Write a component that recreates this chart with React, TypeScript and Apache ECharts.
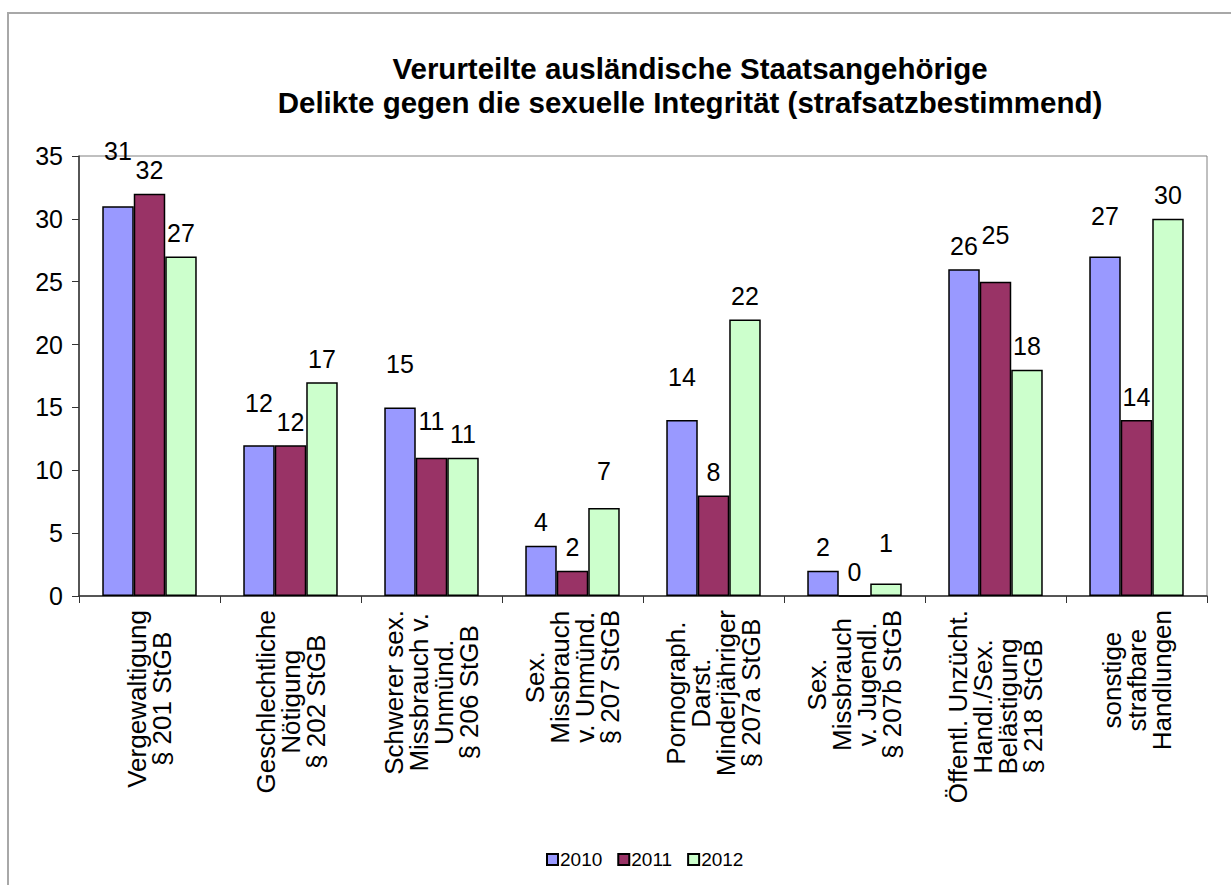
import React, { useEffect, useRef } from "react";
import * as echarts from "echarts";

const titleLines = [
  "Verurteilte ausländische Staatsangehörige",
  "Delikte gegen die sexuelle Integrität (strafsatzbestimmend)",
];

const categories = [
  "Vergewaltigung\n§ 201 StGB",
  "Geschlechtliche\nNötigung\n§ 202 StGB",
  "Schwerer sex.\nMissbrauch v.\nUnmünd.\n§ 206 StGB",
  "Sex.\nMissbrauch\nv. Unmünd.\n§ 207 StGB",
  "Pornograph.\nDarst.\nMinderjähriger\n§ 207a StGB",
  "Sex.\nMissbrauch\nv. Jugendl.\n§ 207b StGB",
  "Öffentl. Unzücht.\nHandl./Sex.\nBelästigung\n§ 218 StGB",
  "sonstige\nstrafbare\nHandlungen",
];

const seriesNames = ["2010", "2011", "2012"];
const values2010 = [31, 12, 15, 4, 14, 2, 26, 27];
const values2011 = [32, 12, 11, 2, 8, 0, 25, 14];
const values2012 = [27, 17, 11, 7, 22, 1, 18, 30];

// extra upward shift of individual value labels (staggered as in the original)
const labelLift2010 = [32, 19, 20, 0, 20, 0, 0, 17];
const labelLift2011 = [0, 0, 13, 0, 0, 0, 23, 0];
const labelLift2012 = [0, 0, 0, 14, 0, 17, 0, 0];

const colors = ["#9999FF", "#993366", "#CCFFCC"];

const yTicks = { min: 0, max: 35, interval: 5 };

const FONT = "Liberation Sans, Arial, Helvetica, sans-serif";

export default function App() {
  const ref = useRef<HTMLDivElement>(null);

  useEffect(() => {
    if (!ref.current) return;
    const chart = echarts.init(ref.current, null, { renderer: "svg" });
    const allValues = [values2010, values2011, values2012];
    const lifts = [labelLift2010, labelLift2011, labelLift2012];

    const series = seriesNames.map((name, si) => ({
      name,
      type: "bar",
      barGap: "0%",
      barCategoryGap: "33%",
      itemStyle: { color: colors[si], borderColor: "#000", borderWidth: 1.5 },
      label: {
        show: true,
        position: "top",
        distance: 11,
        color: "#000",
        fontSize: 25,
        fontFamily: FONT,
      },
      data: allValues[si].map((v, i) => ({
        value: v,
        label: { offset: [0, -lifts[si][i]] },
      })),
    }));

    chart.setOption({
      animation: false,
      backgroundColor: "#ffffff",
      textStyle: { fontFamily: FONT },
      color: colors,
      graphic: [
        {
          type: "rect",
          shape: { x: 8, y: 13, width: 1400, height: 1000 },
          style: { fill: "none", stroke: "#a8a8a8", lineWidth: 2 },
          silent: true,
          z: -10,
        },
        {
          type: "text",
          x: 690,
          y: 68,
          style: {
            text: titleLines[0],
            fontSize: 29.5,
            fontWeight: "bold",
            fontFamily: FONT,
            fill: "#000",
            textAlign: "center",
            textVerticalAlign: "middle",
          },
        },
        {
          type: "text",
          x: 690,
          y: 102,
          style: {
            text: titleLines[1],
            fontSize: 29.5,
            fontWeight: "bold",
            fontFamily: FONT,
            fill: "#000",
            textAlign: "center",
            textVerticalAlign: "middle",
          },
        },
      ],
      legend: {
        data: seriesNames,
        left: 541,
        top: 845,
        itemWidth: 11,
        itemHeight: 11,
        itemGap: 15,
        icon: "rect",
        textStyle: { fontSize: 19, color: "#000", fontFamily: FONT, padding: [0, 0, 0, -3] },
      },
      grid: {
        left: 79,
        right: 24,
        top: 156,
        bottom: 289,
        show: true,
        borderColor: "#808080",
        borderWidth: 1,
        containLabel: false,
      },
      xAxis: {
        type: "category",
        data: categories,
        axisLine: { show: true, lineStyle: { color: "#333", width: 1.5 } },
        axisTick: { show: true, length: 7, lineStyle: { color: "#333" } },
        axisLabel: {
          rotate: 90,
          margin: 14,
          interval: 0,
          color: "#000",
          fontSize: 26,
          lineHeight: 25,
          fontFamily: FONT,
          formatter: (v: string) =>
            v
              .split("\n")
              .map((l) => `{c|${l}}`)
              .join("\n"),
          rich: {
            c: {
              align: "center",
              fontSize: 26,
              lineHeight: 25,
              fontFamily: FONT,
              color: "#000",
            },
          },
        },
      },
      yAxis: {
        type: "value",
        min: yTicks.min,
        max: yTicks.max,
        interval: yTicks.interval,
        splitLine: { show: false },
        axisLine: { show: true, lineStyle: { color: "#333", width: 1.5 } },
        axisTick: { show: true, length: 7, lineStyle: { color: "#333" } },
        axisLabel: { color: "#000", fontSize: 25, margin: 16, fontFamily: FONT },
      },
      series,
    });
    return () => chart.dispose();
  }, []);

  return (
    <div
      ref={ref}
      style={{ position: "absolute", left: 0, top: 0, width: 1231, height: 885 }}
    />
  );
}
